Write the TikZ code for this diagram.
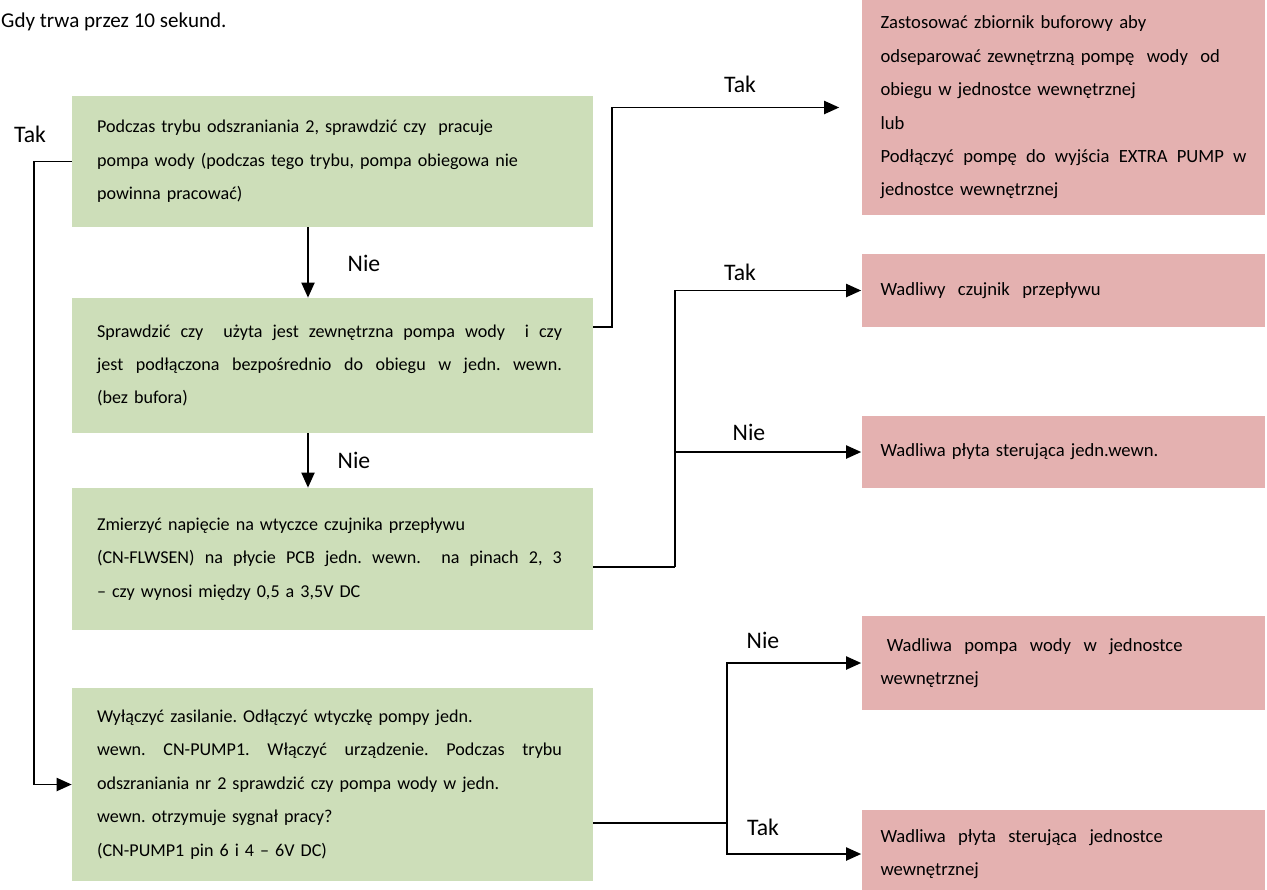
\documentclass[tikz,border=0pt]{standalone}
\usepackage{fontspec}
\setmainfont{Carlito}
\usepackage{xcolor}
\usepackage{tikz}
\usetikzlibrary{
  positioning, arrows.meta, calc
}
\frenchspacing
\definecolor{chkgreen}{RGB}{205,222,185}
\definecolor{resred}{RGB}{228,177,176}
\newcommand{\fullline}[2][9.3cm]{\makebox[#1][s]{\spaceskip=0.23em plus 1fil\relax #2}}
\tikzset{
  chkbox/.style={
    fill=chkgreen, draw=none, anchor=center,
    minimum width=10.42cm, text width=9.42cm, inner xsep=0.5cm,
    align=left, font=\fontsize{10.3}{19}\selectfont
  },
  resbox/.style={
    fill=resred, draw=none, anchor=center,
    minimum width=8.06cm, text width=7.32cm, inner xsep=0.38cm,
    align=left, font=\fontsize{10.6}{19}\selectfont
  },
  arrow/.style={-{Triangle[length=0.3cm,width=0.26cm]}, line width=1.1pt},
  link/.style={line width=1.1pt},
  lbl/.style={font=\fontsize{13.5}{15}\selectfont}
}

\begin{document}
\begin{tikzpicture}[x=0.02cm, y=-0.02cm]

\useasboundingbox (0,0) rectangle (1267,889);

%% Heading (cut at the left edge)
\node[anchor=west, font=\fontsize{12}{14}\selectfont] (head) at (-5,22) {Gdy trwa przez 10 sekund.};

%% Checks
\node[chkbox, minimum height=2.62cm] (chk1) at (332.5,161.5)
  {Podczas trybu odszraniania 2, sprawdzić czy~ pracuje\\
   pompa wody (podczas tego trybu, pompa obiegowa nie\\
   powinna pracować)};
\node[chkbox, minimum height=2.7cm] (chk2) at (332.5,365.5)
  {\fullline{Sprawdzić czy~ użyta jest zewnętrzna pompa wody~ i czy}\\
   \fullline{jest podłączona bezpośrednio do obiegu w jedn. wewn.}\\
   (bez bufora)};
\node[chkbox, minimum height=2.84cm] (chk3) at (332.5,559)
  {Zmierzyć napięcie na wtyczce czujnika przepływu\\
   \fullline{(CN-FLWSEN) na płycie PCB jedn. wewn.~ na pinach 2, 3}\\
   – czy wynosi między 0,5 a 3,5V DC};
\node[chkbox, minimum height=3.86cm] (chk4) at (332.5,784.5)
  {Wyłączyć zasilanie. Odłączyć wtyczkę pompy jedn.\\
   \fullline{wewn. CN-PUMP1. Włączyć urządzenie. Podczas trybu}\\
   odszraniania nr 2 sprawdzić czy pompa wody w jedn.\\
   wewn. otrzymuje sygnał pracy?\\
   (CN-PUMP1 pin 6 i 4 – 6V DC)};

%% Results
\node[resbox, minimum height=4.3cm] (res1) at (1063.5,107.5)
  {Zastosować zbiornik buforowy aby\\
   odseparować zewnętrzną pompę~ wody~ od\\
   obiegu w jednostce wewnętrznej\\
   lub\\
   \fullline[7.32cm]{Podłączyć pompę do wyjścia EXTRA PUMP w}\\
   jednostce wewnętrznej};
\node[resbox, minimum height=1.46cm] (res2) at (1063.5,290.5)
  {Wadliwy~ czujnik~ przepływu};
\node[resbox, minimum height=1.44cm] (res3) at (1063.5,452)
  {Wadliwa płyta sterująca jedn.wewn.};
\node[resbox, minimum height=1.88cm] (res4) at (1063.5,663)
  {~Wadliwa~ pompa~ wody~ w~ jednostce\\
   wewnętrznej};
\node[resbox, minimum height=1.76cm] (res5) at (1063.5,854)
  {Wadliwa~ płyta~ sterująca~ jednostce\\
   wewnętrznej};

%% Main column
\draw[arrow] ([xshift=-0.49cm]chk1.south) -- ([xshift=-0.49cm]chk2.north);
\draw[arrow] ([xshift=-0.49cm]chk2.south) -- ([xshift=-0.49cm]chk3.north);
\node[lbl] (nie1) at (364,263) {Nie};
\node[lbl] (nie2) at (354,460) {Nie};

%% Back loop to the pump check
\draw[arrow] (chk1.west) -- ++(-38,0) |- (chk4.west);
\node[lbl] (tak0) at (30,134) {Tak};

%% Branches to results
\draw[arrow] ([yshift=0.77cm]chk2.east) -- ++(19,0) |- ([xshift=-0.44cm]res1.west);
\node[lbl] (tak1) at (740,84) {Tak};

\draw[link] ([yshift=-0.16cm]chk3.east) -- ++(82,0) coordinate (j3);
\draw[arrow] (j3) |- (res2.west);
\draw[arrow] (j3) |- (res3.west);
\node[lbl] (tak2) at (740,272) {Tak};
\node[lbl] (nie3) at (749,432) {Nie};

\draw[link] ([yshift=-0.77cm]chk4.east) -- ++(134,0) coordinate (j4);
\draw[arrow] (j4) |- (res4.west);
\draw[arrow] (j4) |- (res5.west);
\node[lbl] (nie4) at (763,640) {Nie};
\node[lbl] (tak3) at (763,827) {Tak};

\end{tikzpicture}
\end{document}
